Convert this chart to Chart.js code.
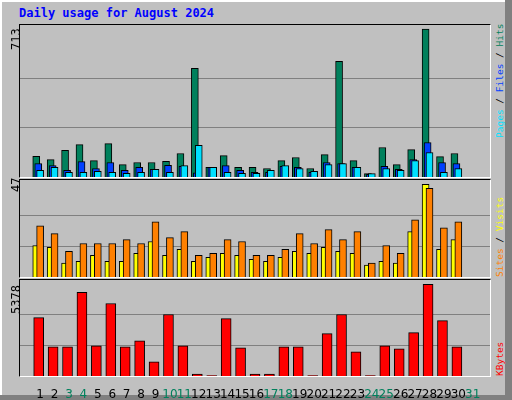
<!DOCTYPE html>
<html>
<head>
<meta charset="utf-8">
<script src="https://cdn.jsdelivr.net/npm/chart.js@4/dist/chart.umd.min.js"></script>
<style>
  body { margin: 0; background: #c0c0c0; }
  #frame { position: absolute; left: 0; top: 0; width: 512px; height: 400px; background: #c0c0c0; overflow: hidden; }
  .edge { position: absolute; }
  .panel { position: absolute; border-top: 1px solid #000; border-left: 1px solid #000; border-right: 1px solid #fff; border-bottom: 1px solid #fff; }
  canvas { position: absolute; }
  .rot { position: absolute; transform-origin: 0 0; transform: rotate(-90deg); white-space: nowrap; font-family: "DejaVu Sans Mono", monospace; font-size: 12px; line-height: 12px; }
  .side { font-size: 9.5px; }
  #title { position: absolute; left: 19px; top: 6px; font: bold 12px "DejaVu Sans Mono", monospace; color: #0000ff; }
</style>
</head>
<body>
<div id="frame">
  <div class="edge" style="left:0;top:0;width:512px;height:2px;background:#fff"></div>
  <div class="edge" style="left:0;top:0;width:2px;height:400px;background:#fff"></div>
  <div class="edge" style="left:505px;top:0;width:7px;height:400px;background:#808080"></div>
  <div class="edge" style="left:0;top:395px;width:512px;height:5px;background:#808080"></div>
  <div id="title">Daily usage for August 2024</div>

  <div class="panel" style="left:19px;top:24px;width:470px;height:152px"></div>
  <div class="panel" style="left:19px;top:179px;width:470px;height:97px"></div>
  <div class="panel" style="left:19px;top:279px;width:470px;height:96px"></div>

  <canvas id="c1" style="left:20px;top:25px"></canvas>
  <canvas id="c2" style="left:20px;top:180px"></canvas>
  <canvas id="c3" style="left:20px;top:280px"></canvas>

  <div class="rot" style="left:10px;top:50px">713</div>
  <div class="rot" style="left:10px;top:192px">47</div>
  <div class="rot" style="left:10px;top:314px">5378</div>

  <div class="rot side" style="left:494px;top:138px"><span style="color:#00e0ff">Pages</span> / <span style="color:#0040ff">Files</span> / <span style="color:#00805c">Hits</span></div>
  <div class="rot side" style="left:494px;top:277px"><span style="color:#ff8000">Sites</span> / <span style="color:#ffff00">Visits</span></div>
  <div class="rot side" style="left:494px;top:376px"><span style="color:#ff0000">KBytes</span></div>
</div>
<script>
// Daily figures
const days = [1,2,3,4,5,6,7,8,9,10,11,12,13,14,15,16,17,18,19,20,21,22,23,24,25,26,27,28,29,30,31];
const weekends = [3,4,10,11,17,18,24,25,31];
const hits   = [100,84,129,156,79,161,60,70,70,76,113,523,47,103,47,47,41,79,94,41,108,557,79,16,142,60,132,713,98,113,0];
const files  = [65,55,32,74,41,70,32,47,37,56,52,20,47,55,32,23,23,52,47,23,70,65,47,13,52,37,84,166,70,65,0];
const pages  = [32,47,23,23,27,23,18,23,37,23,55,152,47,23,18,18,32,55,41,27,60,65,47,16,41,32,79,118,23,41,0];
const visits = [16,15,7,8,11,8,8,12,18,11,14,8,10,12,11,9,8,10,13,12,15,13,12,6,8,7,23,47,14,19,0];
const sites  = [26,22,13,17,17,17,19,17,28,20,23,11,12,19,18,11,11,14,22,17,24,19,23,7,16,12,29,45,25,28,0];
const kbytes = [3428,1714,1714,4905,1773,4255,1714,2068,827,3605,1773,118,20,3369,1655,118,118,1714,1714,20,2482,3605,1418,20,1773,1596,2541,5378,3250,1714,0];

Chart.defaults.devicePixelRatio = 1;
Chart.defaults.animation = false;

function pts(vals, shift) {
    return days.map((d, i) => ({ x: d + shift, y: vals[i] }));
}

function makeChart(id, w, h, datasets, top, showDays) {
    const el = document.getElementById(id);
    el.width = w; el.height = h;
    el.style.width = w + 'px'; el.style.height = h + 'px';
    return new Chart(el, {
        type: 'bar',
        data: { datasets: datasets },
        options: {
            responsive: false,
            layout: { padding: 0 },
            plugins: { legend: { display: false }, tooltip: { enabled: false } },
            scales: {
                x: {
                    type: 'linear', min: 0.13, max: 31.67,
                    display: showDays,
                    grid: { display: false },
                    border: { display: false },
                    afterBuildTicks: s => { s.ticks = days.map(d => ({ value: d })); },
                    afterFit: s => { s.height = showDays ? 24 : 0; },
                    ticks: {
                        autoSkip: false, maxRotation: 0, padding: 4,
                        font: { family: 'DejaVu Sans', size: 12 },
                        color: c => weekends.includes(c.tick.value) ? '#00805c' : '#000'
                    }
                },
                y: {
                    min: 0, max: top,
                    border: { display: false },
                    grid: { color: '#808080', lineWidth: 1, tickLength: 0, drawTicks: false },
                    ticks: { display: false },
                    afterFit: s => { s.width = 0; },
                    afterBuildTicks: s => {
                        const m = datasets[0].peak;
                        s.ticks = [{ value: m / 3 }, { value: 2 * m / 3 }];
                    }
                }
            }
        }
    });
}

function bar(label, vals, shift, color, width, order, peak) {
    return {
        label: label, data: pts(vals, shift), backgroundColor: color,
        borderColor: '#000', borderWidth: 1, barThickness: width,
        grouped: false, order: order, peak: peak
    };
}

const hitMax = Math.max(...hits), visMax = Math.max(...visits), kbMax = Math.max(...kbytes);

makeChart('c1', 470, 152, [
    bar('Hits', hits, -0.27, '#00805c', 7, 2, hitMax),
    bar('Files', files, -0.13, '#0040ff', 7, 1),
    bar('Pages', pages, 0, '#00e0ff', 7, 0)
], hitMax * 1.027, false);

makeChart('c2', 470, 97, [
    bar('Visits', visits, -0.27, '#ffff00', 7, 1, visMax),
    bar('Sites', sites, 0, '#ff8000', 7, 0)
], visMax * 1.047, false);

makeChart('c3', 120 > 0 ? 470 : 470, 120, [
    bar('KBytes', kbytes, -0.1, '#ff0000', 10, 0, kbMax)
], kbMax * 1.047, true);
</script>
</body>
</html>
